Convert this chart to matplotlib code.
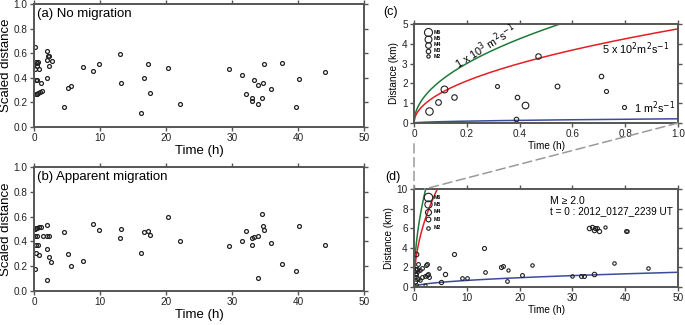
"""
Scaled distance vs time (a, b) and distance-time migration plots (c, d)
"""
import numpy as np
import matplotlib
matplotlib.use("Agg")
import matplotlib.pyplot as plt
from matplotlib.patches import ConnectionPatch

plt.rcParams["font.family"] = ["Liberation Sans", "DejaVu Sans"]

# ---------- Data ----------
# (a) No migration
time_a = [0.15, 0.25, 0.4, 0.6, 0.2, 0.8, 0.25, 0.4, 1.0, 0.25, 0.45, 0.65, 0.9, 1.25, 0.4,
          2.0, 2.1, 2.35, 1.95, 2.35, 2.7, 1.95, 4.6, 5.1, 5.6, 7.4, 8.9, 9.8, 13.0, 13.25,
          16.2, 16.6, 17.3, 17.6, 20.3, 22.1, 29.5, 31.5, 32.1, 33.0, 33.1, 33.4, 33.9, 33.9,
          34.5, 34.7, 34.9, 35.9, 37.6, 39.7, 40.1, 44.1]
scaled_a = [0.65, 0.53, 0.52, 0.53, 0.47, 0.47, 0.38, 0.38, 0.355, 0.27, 0.27, 0.275, 0.285, 0.295, 0.50,
            0.62, 0.575, 0.575, 0.545, 0.495, 0.535, 0.40, 0.165, 0.32, 0.335, 0.49, 0.455, 0.51, 0.59, 0.355,
            0.115, 0.40, 0.515, 0.275, 0.48, 0.19, 0.475, 0.425, 0.27, 0.235, 0.21, 0.385, 0.185, 0.34,
            0.24, 0.36, 0.515, 0.31, 0.52, 0.165, 0.39, 0.45]

# (b) Apparent migration
time_b = [0.15, 0.35, 0.5, 0.75, 1.05, 0.15, 0.5, 0.25, 0.65, 0.35, 0.75, 0.15, 1.3,
          2.0, 2.0, 2.35, 1.9, 2.25, 2.65, 1.95, 4.6, 5.1, 5.65, 7.4, 8.9, 9.8, 13.0, 13.25,
          16.2, 16.6, 17.3, 17.6, 20.3, 22.1, 29.5, 31.5, 32.1, 33.0, 33.1, 33.4, 33.9, 33.9,
          34.5, 34.7, 34.9, 35.9, 37.6, 39.7, 40.1, 44.1]
scaled_b = [0.50, 0.505, 0.51, 0.515, 0.52, 0.44, 0.44, 0.375, 0.37, 0.31, 0.29, 0.18, 0.44,
            0.53, 0.44, 0.44, 0.34, 0.275, 0.23, 0.085, 0.475, 0.30, 0.205, 0.24, 0.54, 0.49, 0.425, 0.50,
            0.305, 0.475, 0.485, 0.455, 0.60, 0.40, 0.36, 0.405, 0.485, 0.375, 0.43, 0.435, 0.105, 0.445,
            0.62, 0.525, 0.49, 0.39, 0.215, 0.16, 0.525, 0.37]

# (c)/(d) event catalogue: time (h), distance (km), magnitude
ev_time = [0.057, 0.091, 0.114, 0.151, 0.316, 0.39, 0.385, 0.42, 0.47, 0.54, 0.71, 0.727, 0.794,
           1.45, 1.2, 2.3, 2.5, 1.45, 2.1, 2.4, 2.7, 2.9, 1.15, 2.1,
           4.8, 5.2, 5.8, 7.5, 9.1, 9.95, 13.25, 13.45, 16.4, 16.8, 17.8, 17.55, 20.4, 22.3,
           29.9, 31.6, 32.1, 34.1, 37.9, 44.4,
           33.2, 33.65, 34.0, 34.3, 34.7, 35.1, 36.2, 40.15, 40.4]
ev_dist = [0.59, 1.07, 1.71, 1.29, 1.86, 1.3, 0.22, 0.93, 3.36, 1.88, 2.36, 1.61, 0.80,
           1.9, 1.75, 2.25, 2.35, 1.05, 1.15, 1.2, 1.3, 1.05, 0.75, 0.2,
           1.9, 0.55, 1.36, 3.4, 0.95, 0.95, 3.95, 1.5, 2.04, 2.14, 1.7, 0.6, 1.22, 2.25,
           1.15, 1.15, 1.12, 1.36, 2.5, 1.97,
           6.05, 6.1, 5.85, 6.05, 6.0, 5.75, 6.1, 5.75, 5.72]
ev_mag = [5.5, 4.0, 5.0, 3.8, 2.5, 3.0, 3.0, 4.8, 3.8, 3.2, 3.0, 2.6, 2.6,
          3.0, 2.6, 3.0, 3.0, 3.0, 3.0, 3.2, 3.0, 3.0, 2.6, 2.2,
          2.6, 3.4, 3.4, 3.2, 2.8, 2.8, 3.2, 2.8, 3.2, 3.0, 2.4, 2.8, 3.0, 2.6,
          2.6, 3.0, 3.0, 3.6, 2.6, 2.6,
          3.6, 3.4, 3.6, 3.2, 3.0, 3.4, 2.4, 3.0, 2.6]

# diffusivities (m^2/s) of the r = sqrt(4 pi D t) curves
diffusivity = [1e3, 5e2, 1.0]
curve_colors = ["#1f7a3a", "#e41e26", "#3b4c9b"]
legend_mags = [6, 5, 4, 3, 2]

SPINE = "#555555"


def style_axes(ax, fs):
    for s in ax.spines.values():
        s.set_color(SPINE)
        s.set_linewidth(1.4)
    ax.tick_params(direction="out", length=3, width=1, color=SPINE, labelsize=fs,
                   labelcolor="#222222", top=True, right=True, pad=1.5)


def diffusion_km(D, t_h):
    return np.sqrt(4 * np.pi * D * t_h * 3600.0) / 1000.0


fig = plt.figure(figsize=(6.85, 3.25), dpi=100)

# ---------- (a) and (b) ----------
panels = [
    ([0.0496, 0.609, 0.4818, 0.3785], time_a, scaled_a, "(a) No migration"),
    ([0.0496, 0.1046, 0.4818, 0.3815], time_b, scaled_b, "(b) Apparent migration"),
]
for rect, t, y, title in panels:
    ax = fig.add_axes(rect)
    ax.plot(t, y, "o", ms=2.8, mfc="none", mec="#222222", mew=0.9, clip_on=False)
    ax.set_xlim(0, 50)
    ax.set_ylim(0, 1.0)
    ax.set_xticks([0, 10, 20, 30, 40, 50])
    ax.set_yticks([0.0, 0.2, 0.4, 0.6, 0.8, 1.0])
    ax.yaxis.set_major_formatter(matplotlib.ticker.FormatStrFormatter("%.1f"))
    style_axes(ax, 7.2)
    ax.set_ylabel("Scaled distance", fontsize=9.5, labelpad=1)
    ax.set_xlabel("Time (h)", fontsize=9.5, labelpad=1)
    ax.text(0.008, 0.97, title, transform=ax.transAxes, ha="left", va="top", fontsize=9.5)


def magnitude_ms(m, scale):
    return scale * (2.4 + (m - 2) * 0.85)


def draw_events(ax, tmax, scale, leg_y, leg_scale):
    for t, d, m in zip(ev_time, ev_dist, ev_mag):
        if t <= tmax:
            ax.plot(t, d, "o", ms=magnitude_ms(m, scale), mfc="none", mec="#222222", mew=0.8)
    for m, yy in zip(legend_mags, leg_y):
        ax.plot(0.053, yy, "o", transform=ax.transAxes, ms=magnitude_ms(m, leg_scale),
                mfc="none", mec="#222222", mew=0.8)
        ax.text(0.075, yy, "M%d" % m, transform=ax.transAxes, fontsize=3.8,
                fontweight="bold", va="center", ha="left")


# ---------- (c) ----------
ax_c = fig.add_axes([0.6044, 0.6215, 0.3854, 0.3046])
tc = np.linspace(0, 1.0, 400)
for D, col in zip(diffusivity, curve_colors):
    ax_c.plot(tc, diffusion_km(D, tc), color=col, lw=1.1)
draw_events(ax_c, 1.0, 1.0, [0.917, 0.85, 0.79, 0.73, 0.672], 1.0)
ax_c.set_xlim(0, 1.0)
ax_c.set_ylim(0, 5)
ax_c.set_xticks([0, 0.2, 0.4, 0.6, 0.8, 1.0])
ax_c.set_xticklabels(["0", "0.2", "0.4", "0.6", "0.8", "1.0"])
ax_c.set_yticks([0, 1, 2, 3, 4, 5])
style_axes(ax_c, 7.2)
ax_c.set_xlabel("Time (h)", fontsize=7.2, labelpad=1)
ax_c.set_ylabel("Distance (km)", fontsize=7.2, labelpad=2)
ax_c.text(0.27, 3.85, r"1 x 10$^3$ m$^2$s$^{-1}$", rotation=32, fontsize=7.8,
          ha="center", va="center")
ax_c.text(0.965, 3.75, r"5 x 10$^2$m$^2$s$^{-1}$", fontsize=7.8, ha="right", va="center")
ax_c.text(0.99, 0.78, r"1 m$^2$s$^{-1}$", fontsize=7.8, ha="right", va="center")
fig.text(0.559, 0.962, "(c)", fontsize=9, ha="left", va="center")

# ---------- (d) ----------
ax_d = fig.add_axes([0.6044, 0.1169, 0.3854, 0.3015])
td = np.linspace(0, 50, 2000)
for D, col in zip(diffusivity, curve_colors):
    ax_d.plot(td, diffusion_km(D, td), color=col, lw=1.1)
draw_events(ax_d, 50, 0.85, [0.915, 0.844, 0.768, 0.69, 0.605], 1.05)
ax_d.set_xlim(0, 50)
ax_d.set_ylim(0, 10)
ax_d.set_xticks([0, 10, 20, 30, 40, 50])
ax_d.set_yticks([0, 2, 4, 6, 8, 10])
style_axes(ax_d, 7.2)
ax_d.set_xlabel("Time (h)", fontsize=7.2, labelpad=1)
ax_d.set_ylabel("Distance (km)", fontsize=7.2, labelpad=2)
ax_d.text(0.515, 0.88, "M \u2265 2.0", transform=ax_d.transAxes, fontsize=7.5, va="center")
ax_d.text(0.515, 0.77, "t = 0 : 2012_0127_2239 UT", transform=ax_d.transAxes,
          fontsize=7.2, va="center")
fig.text(0.562, 0.455, "(d)", fontsize=9, ha="left", va="center")

# dashed zoom connectors between (c) and (d)
for xa, xb, shr in [(0.0, 0.0, 15), (1.0, 2.0, 0)]:
    con = ConnectionPatch(xyA=(xa, 0), coordsA=ax_c.transData, xyB=(xb, 10),
                          coordsB=ax_d.transData, color="#9a9a9a", lw=1.1,
                          linestyle=(0, (6, 3)), shrinkA=shr, shrinkB=0)
    fig.add_artist(con)

fig.savefig("out.png", dpi=100)
